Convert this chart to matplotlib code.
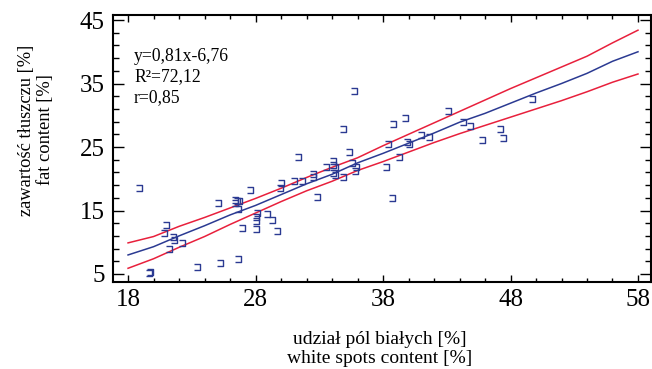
import matplotlib
matplotlib.use("Agg")
import matplotlib.pyplot as plt
from matplotlib.path import Path
from matplotlib.ticker import MultipleLocator, FixedLocator

plt.rcParams['font.family'] = ['Liberation Serif', 'DejaVu Serif']

# Data
x_pts = [18.86, 19.65, 19.73, 20.96, 20.85, 21.55, 21.61, 22.27, 21.24, 23.44,
         25.22, 26.59, 25.08, 26.37, 26.53, 26.68, 26.37, 26.60, 27.53, 28.09,
         28.00, 28.00, 28.00, 26.90, 28.88, 29.33, 29.66, 30.02, 29.92, 31.02,
         31.65, 32.49, 32.49, 32.86, 31.36, 34.10, 34.10, 33.51, 34.26, 34.10,
         34.26, 34.89, 35.33, 35.53, 35.86, 35.80, 38.24, 35.75, 34.84, 38.76,
         39.75, 43.07, 38.37, 39.86, 40.04, 40.96, 41.63, 39.25, 44.25, 44.82,
         45.74, 47.18, 47.44, 38.68, 49.66]
y_pts = [18.54, 5.16, 5.30, 12.72, 11.41, 10.78, 10.35, 9.83, 8.94, 6.15,
         6.78, 7.31, 16.13, 16.65, 16.45, 16.45, 16.23, 15.24, 18.23, 14.56,
         13.93, 13.39, 12.04, 12.29, 14.45, 13.50, 11.77, 19.28, 18.50, 19.69,
         19.60, 20.70, 20.23, 17.20, 23.38, 22.84, 22.24, 21.80, 21.80, 20.86,
         20.64, 20.32, 24.29, 22.53, 21.90, 21.27, 21.80, 33.82, 27.79, 28.62,
         29.52, 30.72, 25.47, 25.83, 25.47, 26.84, 26.50, 23.47, 28.89, 28.31,
         26.10, 27.79, 26.46, 16.92, 32.56]

x_line = [18, 20, 22, 24, 26, 28, 30, 32, 34, 36, 38, 40, 42, 44, 46, 48, 50, 52, 54, 56, 58]
y_fit = [8.0, 9.3, 11.0, 12.6, 14.3, 15.8, 17.5, 19.2, 20.7, 22.5, 24.0, 25.6,
         27.2, 28.9, 30.3, 31.9, 33.5, 35.0, 36.6, 38.5, 40.0]
y_upper = [9.9, 10.9, 12.5, 13.9, 15.4, 16.9, 18.5, 20.2, 21.8, 23.3, 25.2, 27.0,
           28.8, 30.6, 32.4, 34.2, 35.9, 37.6, 39.3, 41.4, 43.4]
y_lower = [5.9, 7.4, 9.2, 10.9, 12.8, 14.6, 16.4, 18.1, 19.6, 21.3, 22.7, 24.2,
           25.7, 27.1, 28.4, 29.7, 31.0, 32.3, 33.7, 35.2, 36.5]

x_ticks = [18, 28, 38, 48, 58]
y_ticks = [5, 15, 25, 35, 45]
stats_lines = ["y=0,81x-6,76", "R²=72,12", "r=0,85"]
x_label = "udział pól białych [%]\nwhite spots content [%]"
y_label = "zawartość tłuszczu [%]\nfat content [%]"

W, H = 652, 369
fig = plt.figure(figsize=(W / 100, H / 100), dpi=100)
ax = fig.add_axes([113 / W, 87 / H, 538 / W, 267 / H])

bracket = Path([(-1, 1), (1, 1), (1, -1), (-1, -1)],
               [Path.MOVETO, Path.LINETO, Path.LINETO, Path.LINETO])

blue = '#2b3a92'
red = '#e8203c'
ax.plot(x_line, y_upper, color=red, lw=1.1)
ax.plot(x_line, y_lower, color=red, lw=1.1)
ax.plot(x_line, y_fit, color=blue, lw=1.1)
ax.plot(x_pts, y_pts, linestyle='none', marker=bracket, markersize=4.2,
        markerfacecolor='none', markeredgecolor=blue, markeredgewidth=1.0)

ax.set_xlim(16.82, 59.02)
ax.set_ylim(3.74, 45.79)
ax.xaxis.set_major_locator(FixedLocator(x_ticks))
ax.yaxis.set_major_locator(FixedLocator(y_ticks))
ax.xaxis.set_minor_locator(MultipleLocator(2))
ax.yaxis.set_minor_locator(FixedLocator(list(range(7, 45, 2))))

for s in ax.spines.values():
    s.set_linewidth(1.5)
ax.tick_params(axis='both', which='both', direction='in', top=True, right=True,
               width=1.0, labelsize=18)
ax.tick_params(axis='x', which='major', length=5, pad=5)
ax.tick_params(axis='x', which='minor', length=3)
ax.tick_params(axis='y', which='major', length=8, pad=6)
ax.tick_params(axis='y', which='minor', length=4.5)

for i, t in enumerate(stats_lines):
    ax.text(134 / W, 1 - (61 + i * 20.5) / H, t, transform=fig.transFigure,
            fontsize=12.7, ha='left', va='baseline')

fig.text(380 / W, 1 - 349 / H, x_label, ha='center', va='center', fontsize=14,
         linespacing=1.1)
fig.text(36 / W, 1 - 130 / H, y_label, ha='center', va='center', fontsize=13.3,
         rotation=90, linespacing=1.15)

fig.savefig("out.png", dpi=100)
